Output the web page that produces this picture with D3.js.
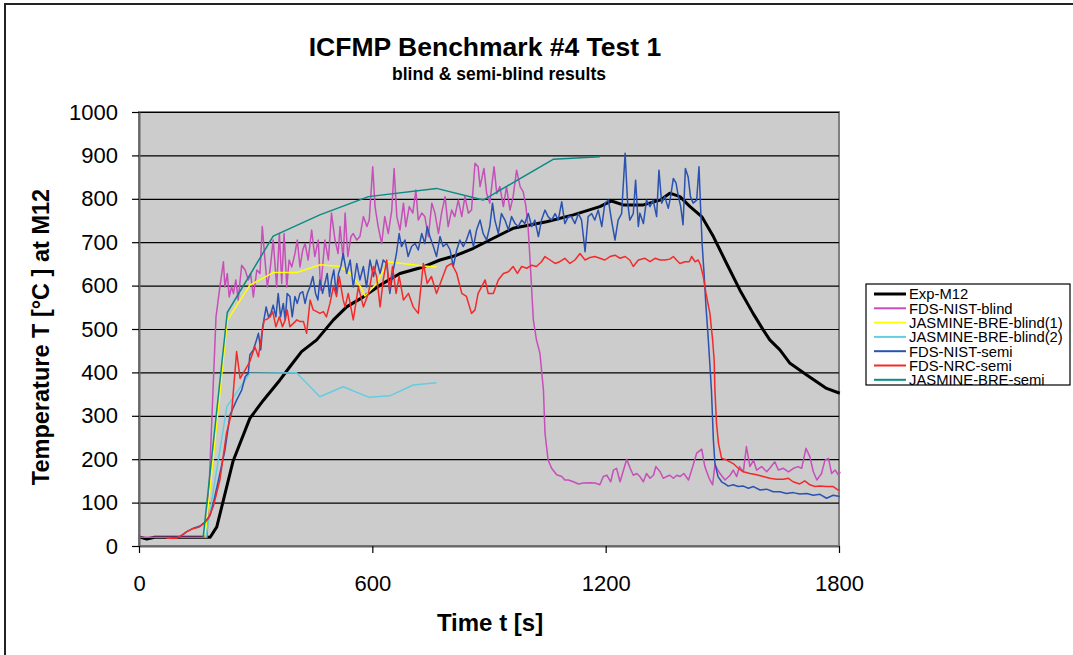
<!DOCTYPE html>
<html>
<head>
<meta charset="utf-8">
<script src="https://cdn.jsdelivr.net/npm/d3@7"></script>
<style>
  body { margin: 0; background: #fff; }
  svg { display: block; font-family: Arial, "Liberation Sans", sans-serif; }
</style>
</head>
<body>
<svg width="1073" height="655"></svg>
<script>
// Tick values
const xTicks = [0, 600, 1200, 1800];
const yTicks = [0, 100, 200, 300, 400, 500, 600, 700, 800, 900, 1000];

// Series names (legend order)
const seriesNames = ["Exp-M12", "FDS-NIST-blind", "JASMINE-BRE-blind(1)", "JASMINE-BRE-blind(2)",
                     "FDS-NIST-semi", "FDS-NRC-semi", "JASMINE-BRE-semi"];

// [time s, temperature C]
const expM12 = [[0,21],[20,16],[40,20],[100,20],[183,20],[200,44],[242,196],[285,294],[320,336],[362,382],
  [388,413],[418,448],[457,475],[500,521],[534,551],[577,574],[620,601],[671,628],[731,643],[774,659],
  [817,670],[860,686],[902,705],[962,732],[1048,747],[1117,763],[1185,782],[1215,795],[1245,786],[1297,786],
  [1340,797],[1365,813],[1391,805],[1417,782],[1447,759],[1477,713],[1511,651],[1545,590],[1579,536],[1605,498],
  [1622,475],[1648,452],[1674,421],[1717,394],[1768,363],[1802,352]];

const fdsNistBlind = [[0,20],[170,20],[175,20],[198,528],[208,597],[217,655],[221,597],[227,628],[232,574],[238,597],
  [243,582],[249,613],[255,567],[264,647],[273,636],[281,613],[287,628],[294,574],[303,636],[311,628],
  [317,736],[324,659],[330,597],[337,636],[345,705],[354,597],[361,720],[367,605],[373,720],[380,597],
  [386,659],[393,643],[401,674],[407,705],[414,643],[421,682],[427,697],[435,659],[444,728],[452,667],
  [461,705],[467,590],[478,705],[487,659],[495,767],[504,705],[512,674],[517,736],[525,660],[530,767],
  [537,667],[545,713],[551,720],[560,705],[568,713],[577,759],[586,736],[592,751],[601,874],[607,782],
  [615,736],[624,697],[632,759],[641,720],[650,774],[656,870],[663,759],[671,728],[680,790],[686,736],
  [695,782],[704,767],[712,820],[718,751],[727,767],[735,759],[744,713],[753,790],[761,767],[770,720],
  [778,767],[787,805],[795,736],[804,774],[812,759],[821,797],[830,759],[838,805],[847,767],[855,774],
  [864,882],[872,874],[877,828],[887,870],[894,812],[902,790],[913,874],[920,812],[928,828],[937,782],
  [945,828],[954,774],[962,805],[971,866],[980,828],[988,816],[995,782],[1001,728],[1007,636],[1014,521],
  [1022,475],[1031,444],[1040,359],[1044,260],[1052,198],[1061,179],[1074,164],[1087,160],[1095,152],[1104,152],
  [1117,148],[1130,143],[1143,145],[1160,146],[1173,145],[1185,141],[1194,160],[1203,163],[1213,148],[1220,175],
  [1228,179],[1237,148],[1246,175],[1254,200],[1263,179],[1271,163],[1280,167],[1288,160],[1297,148],[1305,167],
  [1314,156],[1323,163],[1329,183],[1340,171],[1348,156],[1357,160],[1365,163],[1374,156],[1383,163],[1391,160],
  [1401,167],[1413,152],[1424,183],[1434,214],[1447,223],[1455,183],[1466,156],[1475,141],[1481,187],[1494,167],
  [1507,152],[1520,163],[1528,175],[1537,160],[1544,183],[1554,171],[1562,229],[1571,183],[1580,198],[1588,175],
  [1601,183],[1614,171],[1622,179],[1635,194],[1644,175],[1657,179],[1670,171],[1683,179],[1695,183],[1704,179],
  [1715,225],[1725,206],[1734,171],[1743,152],[1755,167],[1764,198],[1773,202],[1781,167],[1790,175],[1799,163],
  [1803,171]];

const jasmineBlind1 = [[170,20],[227,520],[285,601],[345,630],[406,630],[466,648],[517,644],[543,628],
  [570,597],[581,576],[611,605],[640,655],[688,650],[731,645],[765,643]];

const jasmineBlind2 = [[172,20],[226,321],[285,398],[405,399],[465,344],[525,367],[590,343],[645,346],
  [705,371],[765,376]];

const fdsNistSemi = [[80,18],[105,21],[123,33],[140,41],[157,46],[170,56],[183,71],[191,98],[195,114],[208,167],
  [221,221],[234,302],[251,336],[264,359],[273,390],[281,398],[285,440],[294,452],[301,471],[307,490],
  [313,452],[318,505],[327,551],[333,528],[339,536],[345,555],[352,528],[358,582],[364,528],[371,559],
  [376,521],[381,582],[388,575],[394,528],[401,575],[407,559],[414,582],[421,586],[427,559],[433,582],
  [440,598],[447,621],[454,582],[460,567],[465,613],[472,582],[478,605],[484,628],[490,575],[495,613],
  [501,636],[507,582],[513,628],[519,644],[525,674],[534,628],[543,659],[551,597],[560,651],[568,613],
  [577,644],[585,597],[594,659],[603,621],[611,659],[620,628],[628,659],[637,651],[645,582],[654,636],
  [662,674],[669,720],[675,690],[684,705],[692,667],[701,690],[710,697],[718,682],[727,720],[735,697],
  [741,736],[748,713],[757,690],[765,667],[774,713],[782,690],[791,697],[800,682],[808,644],[817,682],
  [825,705],[834,690],[842,705],[851,728],[860,690],[868,728],[877,751],[885,720],[894,705],[902,736],
  [909,790],[915,751],[924,720],[932,766],[941,751],[950,728],[958,759],[967,743],[975,736],[984,751],
  [992,743],[1001,766],[1010,736],[1018,751],[1027,713],[1035,751],[1044,774],[1052,759],[1061,751],[1070,766],
  [1078,751],[1087,793],[1095,743],[1104,759],[1112,759],[1121,743],[1130,766],[1138,751],[1147,678],[1155,759],
  [1164,766],[1172,751],[1181,774],[1190,736],[1198,790],[1207,797],[1215,751],[1224,705],[1232,751],[1241,766],
  [1250,905],[1256,797],[1262,751],[1271,766],[1277,843],[1284,736],[1288,767],[1297,743],[1305,797],[1314,782],
  [1322,797],[1331,759],[1337,866],[1344,790],[1352,805],[1361,778],[1367,805],[1374,847],[1381,836],[1387,805],
  [1393,782],[1399,740],[1405,870],[1412,851],[1418,805],[1425,790],[1434,797],[1440,874],[1444,782],[1448,697],
  [1453,628],[1458,551],[1464,475],[1472,359],[1477,244],[1481,190],[1489,160],[1498,148],[1507,143],[1515,138],
  [1528,141],[1541,137],[1554,138],[1567,133],[1580,137],[1597,129],[1614,131],[1631,125],[1648,125],[1665,121],
  [1682,123],[1699,120],[1717,121],[1734,117],[1751,119],[1768,110],[1785,117],[1802,114]];

const fdsNrcSemi = [[71,18],[97,18],[110,25],[123,33],[136,39],[153,43],[166,51],[178,63],[191,91],[208,152],
  [225,260],[238,306],[251,448],[260,386],[273,406],[285,425],[298,459],[307,436],[316,490],[322,521],
  [328,522],[337,528],[344,540],[352,505],[361,528],[369,505],[376,521],[381,544],[388,505],[397,513],
  [406,521],[414,517],[423,517],[431,490],[440,567],[448,544],[457,540],[465,536],[474,540],[482,528],
  [491,559],[500,598],[508,575],[515,621],[525,567],[530,551],[538,582],[551,521],[564,597],[577,551],
  [590,582],[603,644],[611,621],[620,551],[628,613],[637,659],[644,590],[652,644],[661,582],[669,621],
  [680,567],[693,582],[705,551],[718,536],[731,651],[741,605],[752,621],[765,582],[778,613],[791,644],
  [804,651],[817,628],[830,582],[842,575],[855,536],[864,544],[872,582],[881,597],[890,613],[898,582],
  [911,582],[924,613],[937,628],[950,632],[962,644],[973,628],[984,644],[997,640],[1010,647],[1022,644],
  [1035,655],[1044,667],[1057,659],[1070,651],[1082,655],[1095,663],[1108,651],[1121,659],[1134,674],[1147,659],
  [1160,665],[1172,667],[1185,663],[1198,659],[1211,667],[1224,670],[1237,663],[1250,667],[1262,659],[1271,644],
  [1284,659],[1301,663],[1314,655],[1327,663],[1340,659],[1352,659],[1365,661],[1374,667],[1382,659],[1391,651],
  [1404,655],[1415,655],[1421,667],[1430,655],[1438,659],[1444,647],[1451,621],[1458,582],[1468,536],[1475,475],
  [1479,428],[1481,359],[1485,283],[1490,237],[1498,202],[1511,198],[1528,190],[1541,179],[1554,171],[1571,167],
  [1588,164],[1605,160],[1622,156],[1639,154],[1657,154],[1670,156],[1682,148],[1699,143],[1712,150],[1725,141],
  [1738,137],[1751,138],[1768,137],[1785,137],[1798,129],[1802,129]];

const jasmineSemi = [[165,20],[227,538],[345,714],[465,763],[590,805],[765,824],[885,797],[1065,891],[1185,897]];

const seriesData = [expM12, fdsNistBlind, jasmineBlind1, jasmineBlind2, fdsNistSemi, fdsNrcSemi, jasmineSemi];
const seriesColors = ["#000000", "#c64fb9", "#ffff00", "#66cce0", "#2a52b0", "#f42a2a", "#0c8a86"];
const seriesWidths = [3, 1.5, 1.5, 1.5, 1.5, 1.5, 1.5];

// Chart geometry
const plotLeft = 139, plotRight = 839, plotTop = 112, plotBottom = 546;
const svg = d3.select("svg");

// Outer frame
svg.append("rect")
    .attr("x", 5).attr("y", 4)
    .attr("width", 1100).attr("height", 700)
    .attr("fill", "#fff")
    .attr("stroke", "#222")
    .attr("stroke-width", 2);

const xScale = d3.scaleLinear().domain([0, 1800]).range([plotLeft, plotRight]);
const yScale = d3.scaleLinear().domain([0, 1000]).range([plotBottom, plotTop]);

// Plot area
svg.append("rect")
    .attr("x", plotLeft).attr("y", plotTop)
    .attr("width", plotRight - plotLeft).attr("height", plotBottom - plotTop)
    .attr("fill", "#cccccc")
    .attr("stroke", "#808080")
    .attr("stroke-width", 2);

// Gridlines
const grid = svg.append("g")
    .attr("transform", `translate(${plotLeft},0)`)
    .call(d3.axisLeft(yScale).tickValues(yTicks.filter(d => d > 0)).tickSize(-(plotRight - plotLeft)).tickFormat(""));
grid.select(".domain").remove();
grid.selectAll("line").attr("stroke", "#000").attr("stroke-width", 1.2);

// Lines
const line = d3.line().x(d => xScale(d[0])).y(d => yScale(d[1]));
svg.append("g")
  .selectAll("path")
  .data(seriesData)
  .enter()
  .append("path")
    .attr("d", line)
    .attr("fill", "none")
    .attr("stroke", (d, i) => seriesColors[i])
    .attr("stroke-width", (d, i) => seriesWidths[i])
    .attr("stroke-linejoin", "round");

// Axes
const yAxis = svg.append("g")
    .attr("transform", `translate(${plotLeft},0)`)
    .call(d3.axisLeft(yScale).tickValues(yTicks).tickFormat(d3.format("d"))
            .tickSize(7).tickPadding(14).tickSizeOuter(0));
const xAxis = svg.append("g")
    .attr("transform", `translate(0,${plotBottom})`)
    .call(d3.axisBottom(xScale).tickValues(xTicks).tickFormat(d3.format("d"))
            .tickSize(7).tickPadding(22).tickSizeOuter(0));
[yAxis, xAxis].forEach(a => {
  a.select(".domain").attr("stroke", "#666").attr("stroke-width", 2);
  a.selectAll(".tick line").attr("stroke", "#000").attr("stroke-width", 1.2);
  a.selectAll("text")
    .attr("fill", "#000")
    .style("font-family", "Arial, 'Liberation Sans', sans-serif")
    .style("font-size", "22px");
});

// Titles
svg.append("text")
    .text("ICFMP Benchmark #4 Test 1")
    .attr("x", 485).attr("y", 56)
    .style("text-anchor", "middle")
    .style("font-size", "26.5px").style("font-weight", "bold");
svg.append("text")
    .text("blind & semi-blind results")
    .attr("x", 499).attr("y", 80)
    .style("text-anchor", "middle")
    .style("font-size", "17.5px").style("font-weight", "bold");

svg.append("text")
    .text("Time t [s]")
    .attr("x", 490).attr("y", 631)
    .style("text-anchor", "middle")
    .style("font-size", "24px").style("font-weight", "bold");
svg.append("text")
    .text("Temperature T [°C ] at M12")
    .attr("transform", "translate(49,337) rotate(-90)")
    .style("text-anchor", "middle")
    .style("font-size", "23.5px").style("font-weight", "bold");

// Legend
const legX = 866, legY = 284, legW = 204, legH = 101, rowH = 14.3;
svg.append("clipPath").attr("id", "legclip")
  .append("rect").attr("x", legX).attr("y", legY).attr("width", legW).attr("height", legH);
svg.append("rect")
    .attr("x", legX).attr("y", legY).attr("width", legW).attr("height", legH)
    .attr("fill", "#fff");
const leg = svg.append("g").attr("clip-path", "url(#legclip)")
  .selectAll("g")
  .data(seriesNames)
  .enter()
  .append("g")
    .attr("transform", (d, i) => `translate(0,${legY + 10 + i * rowH})`);
leg.append("line")
    .attr("x1", 874).attr("x2", 906)
    .attr("stroke", (d, i) => seriesColors[i])
    .attr("stroke-width", (d, i) => i === 0 ? 3 : 2);
leg.append("text")
    .text(d => d)
    .attr("x", 909).attr("dy", "0.36em")
    .style("font-size", "14.8px");
svg.append("rect")
    .attr("x", legX).attr("y", legY).attr("width", legW).attr("height", legH)
    .attr("fill", "none").attr("stroke", "#000").attr("stroke-width", 1.2);
</script>
</body>
</html>
